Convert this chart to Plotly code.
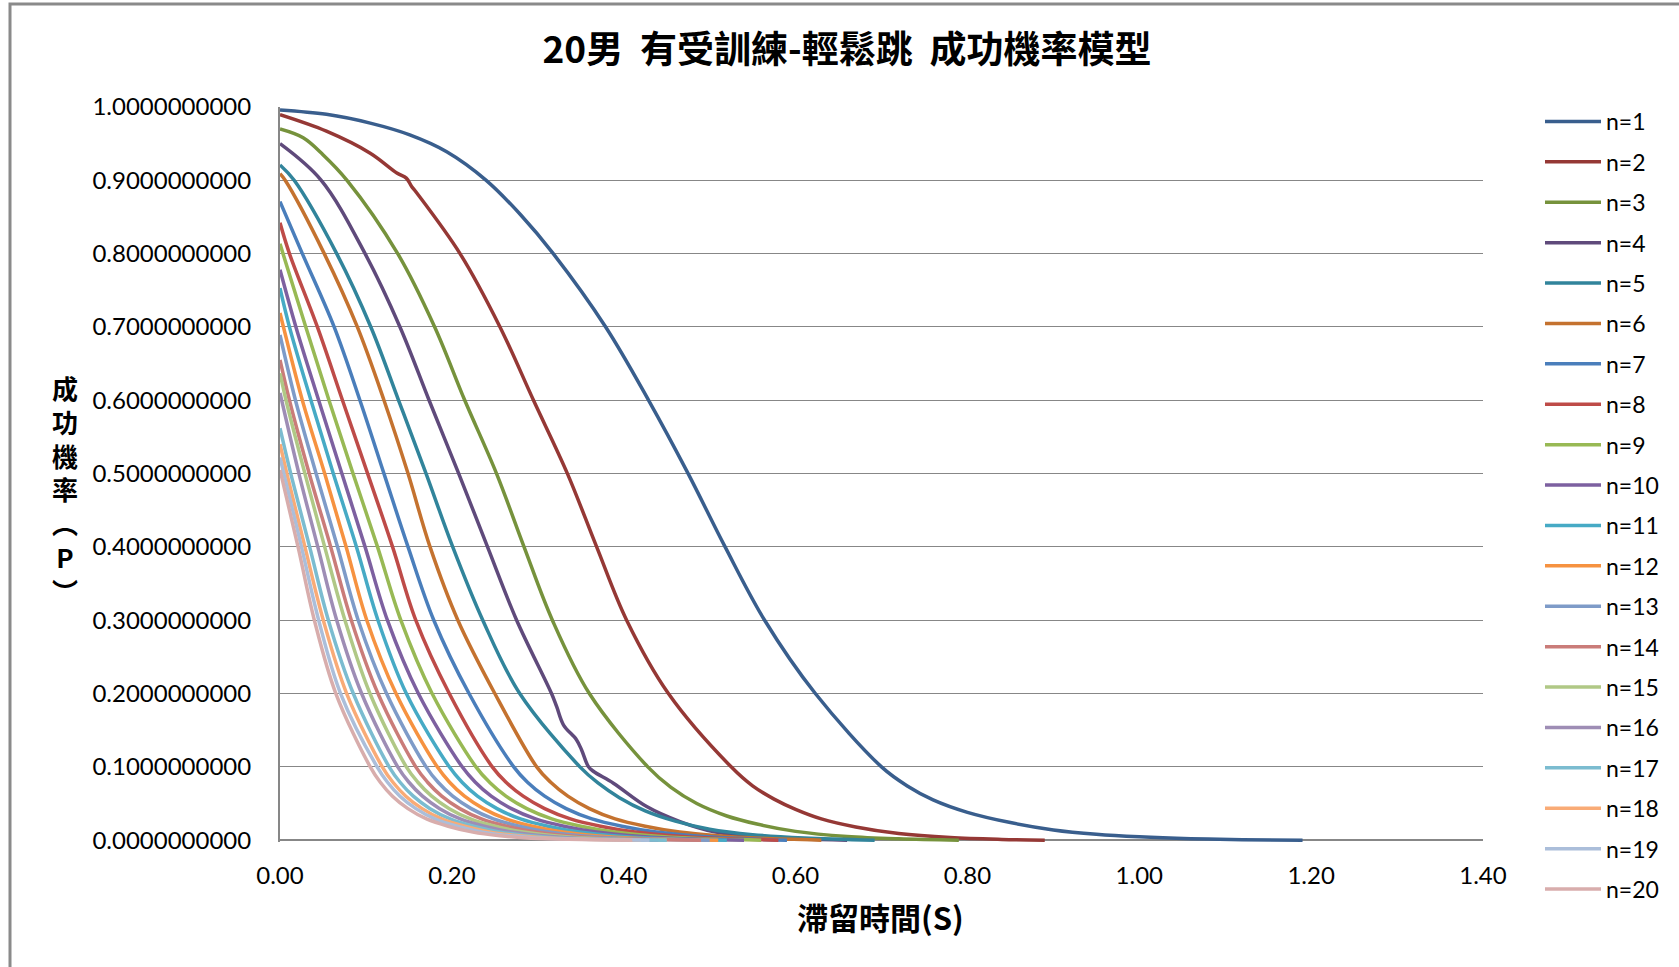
import plotly.graph_objects as go

# 滯留時間 (s) / 成功機率 for each number of jumps n
T1 = [0, 0.054, 0.105, 0.151, 0.194, 0.240, 0.280, 0.318, 0.379, 0.429, 0.475, 0.518, 0.564, 0.623, 0.700,
      0.730, 0.760, 0.800, 0.850, 0.900, 0.950, 1.000, 1.060, 1.120, 1.190]
P1 = [0.996, 0.990, 0.978, 0.962, 0.939, 0.900, 0.853, 0.800, 0.700, 0.600, 0.500, 0.400, 0.300, 0.200, 0.100,
      0.074, 0.055, 0.038, 0.024, 0.014, 0.008, 0.0045, 0.002, 0.0007, 0.000]

T2 = [0, 0.054, 0.105, 0.136, 0.147, 0.153, 0.159, 0.2095, 0.256, 0.295, 0.3345, 0.3685, 0.4034, 0.452, 0.525,
      0.550, 0.575, 0.600, 0.630, 0.670, 0.720, 0.780, 0.840, 0.890]
P2 = [0.9895, 0.967, 0.937, 0.910, 0.903, 0.892, 0.883, 0.800, 0.700, 0.600, 0.500, 0.400, 0.300, 0.200, 0.100,
      0.074, 0.056, 0.042, 0.029, 0.018, 0.009, 0.0035, 0.001, 0.000]

T3 = [0, 0.027, 0.050, 0.078, 0.137, 0.180, 0.215, 0.252, 0.284, 0.317, 0.360, 0.428,
      0.455, 0.485, 0.520, 0.555, 0.600, 0.660, 0.720, 0.790]
P3 = [0.970, 0.958, 0.935, 0.900, 0.800, 0.700, 0.600, 0.500, 0.400, 0.300, 0.200, 0.100,
      0.072, 0.050, 0.033, 0.022, 0.012, 0.005, 0.0018, 0.000]

T4 = [0, 0.048, 0.099, 0.1396, 0.1735, 0.208, 0.2415, 0.2754, 0.316, 0.322, 0.330, 0.345, 0.351, 0.3588, 0.3646,
      0.388, 0.4267, 0.4655, 0.504, 0.560, 0.660]
P4 = [0.950, 0.900, 0.800, 0.700, 0.600, 0.500, 0.400, 0.300, 0.200, 0.182, 0.157, 0.137, 0.123, 0.1005, 0.094,
      0.0777, 0.0459, 0.0254, 0.0118, 0.004, 0.000]

T5 = [0, 0.0165, 0.066, 0.1057, 0.138, 0.170, 0.201, 0.236, 0.279, 0.349,
      0.370, 0.395, 0.425, 0.460, 0.500, 0.550, 0.610, 0.692]
P5 = [0.921, 0.900, 0.800, 0.700, 0.600, 0.500, 0.400, 0.300, 0.200, 0.100,
      0.078, 0.058, 0.040, 0.026, 0.015, 0.0075, 0.003, 0.000]

T6 = [0, 0.006, 0.0515, 0.090, 0.121, 0.149, 0.1746, 0.207, 0.250, 0.2987,
      0.315, 0.335, 0.360, 0.390, 0.425, 0.465, 0.510, 0.560, 0.630]
P6 = [0.909, 0.900, 0.800, 0.700, 0.600, 0.500, 0.400, 0.300, 0.200, 0.100,
      0.079, 0.060, 0.043, 0.029, 0.019, 0.011, 0.006, 0.0025, 0.000]

T7 = [0, 0.026, 0.063, 0.093, 0.121, 0.149, 0.179, 0.220, 0.272,
      0.288, 0.308, 0.333, 0.363, 0.398, 0.438, 0.482, 0.530, 0.590]
P7 = [0.871, 0.800, 0.700, 0.600, 0.500, 0.400, 0.300, 0.200, 0.100,
      0.079, 0.060, 0.043, 0.029, 0.019, 0.011, 0.006, 0.0025, 0.000]

T8 = [0, 0.011, 0.0435, 0.0727, 0.102, 0.131, 0.158, 0.197, 0.247,
      0.263, 0.283, 0.308, 0.338, 0.373, 0.413, 0.457, 0.507, 0.580]
P8 = [0.842, 0.800, 0.700, 0.600, 0.500, 0.400, 0.300, 0.200, 0.100,
      0.079, 0.060, 0.043, 0.029, 0.019, 0.011, 0.006, 0.0025, 0.000]

T9 = [0, 0.0035, 0.030, 0.057, 0.085, 0.1135, 0.1406, 0.177, 0.228,
      0.2438, 0.2629, 0.2872, 0.3163, 0.3502, 0.389, 0.4317, 0.4802, 0.560]
P9 = [0.8135, 0.800, 0.700, 0.600, 0.500, 0.400, 0.300, 0.200, 0.100,
      0.079, 0.060, 0.043, 0.029, 0.019, 0.011, 0.006, 0.0025, 0.000]

T10 = [0, 0.0185, 0.045, 0.072, 0.099, 0.125, 0.161, 0.212,
       0.2273, 0.2458, 0.2693, 0.2975, 0.3304, 0.368, 0.4094, 0.4564, 0.540]
P10 = [0.778, 0.700, 0.600, 0.500, 0.400, 0.300, 0.200, 0.100,
       0.079, 0.060, 0.043, 0.029, 0.019, 0.011, 0.006, 0.0025, 0.000]

T11 = [0, 0.011, 0.036, 0.062, 0.089, 0.114, 0.147, 0.197,
       0.2118, 0.2298, 0.2525, 0.2798, 0.3117, 0.3481, 0.3881, 0.4336, 0.520]
P11 = [0.753, 0.700, 0.600, 0.500, 0.400, 0.300, 0.200, 0.100,
       0.079, 0.060, 0.043, 0.029, 0.019, 0.011, 0.006, 0.0025, 0.000]

T12 = [0, 0.004, 0.026, 0.052, 0.077, 0.101, 0.135, 0.183,
       0.1973, 0.2147, 0.2367, 0.2631, 0.2939, 0.3291, 0.3678, 0.4118, 0.510]
P12 = [0.719, 0.700, 0.600, 0.500, 0.400, 0.300, 0.200, 0.100,
       0.079, 0.060, 0.043, 0.029, 0.019, 0.011, 0.006, 0.0025, 0.000]

T13 = [0, 0.018, 0.042, 0.067, 0.091, 0.124, 0.170,
       0.184, 0.201, 0.2225, 0.2483, 0.2784, 0.3128, 0.3506, 0.3936, 0.500]
P13 = [0.689, 0.600, 0.500, 0.400, 0.300, 0.200, 0.100,
       0.079, 0.060, 0.043, 0.029, 0.019, 0.011, 0.006, 0.0025, 0.000]

T14 = [0, 0.011, 0.034, 0.059, 0.083, 0.114, 0.158,
       0.1717, 0.1882, 0.2092, 0.2344, 0.2638, 0.2974, 0.3344, 0.3764, 0.490]
P14 = [0.655, 0.600, 0.500, 0.400, 0.300, 0.200, 0.100,
       0.079, 0.060, 0.043, 0.029, 0.019, 0.011, 0.006, 0.0025, 0.000]

T15 = [0, 0.007, 0.029, 0.052, 0.0756, 0.1047, 0.147,
       0.1604, 0.1765, 0.197, 0.2216, 0.2503, 0.2831, 0.3192, 0.3602, 0.450]
P15 = [0.637, 0.600, 0.500, 0.400, 0.300, 0.200, 0.100,
       0.079, 0.060, 0.043, 0.029, 0.019, 0.011, 0.006, 0.0025, 0.000]

T16 = [0, 0.022, 0.044, 0.066, 0.095, 0.137,
       0.150, 0.1658, 0.1858, 0.2098, 0.2378, 0.2698, 0.305, 0.345, 0.440]
P16 = [0.610, 0.500, 0.400, 0.300, 0.200, 0.100,
       0.079, 0.060, 0.043, 0.029, 0.019, 0.011, 0.006, 0.0025, 0.000]

T17 = [0, 0.0125, 0.0345, 0.0563, 0.0853, 0.127,
       0.1397, 0.1551, 0.1746, 0.198, 0.2253, 0.2565, 0.2908, 0.3298, 0.450]
P17 = [0.562, 0.500, 0.400, 0.300, 0.200, 0.100,
       0.079, 0.060, 0.043, 0.029, 0.019, 0.011, 0.006, 0.0025, 0.000]

T18 = [0, 0.008, 0.029, 0.0504, 0.0776, 0.119,
       0.1314, 0.1464, 0.1654, 0.1882, 0.2148, 0.2452, 0.2786, 0.3166, 0.420]
P18 = [0.540, 0.500, 0.400, 0.300, 0.200, 0.100,
       0.079, 0.060, 0.043, 0.029, 0.019, 0.011, 0.006, 0.0025, 0.000]

T19 = [0, 0.0045, 0.025, 0.045, 0.0705, 0.113,
       0.1251, 0.1396, 0.1581, 0.1803, 0.2062, 0.2358, 0.2684, 0.3054, 0.430]
P19 = [0.522, 0.500, 0.400, 0.300, 0.200, 0.100,
       0.079, 0.060, 0.043, 0.029, 0.019, 0.011, 0.006, 0.0025, 0.000]

T20 = [0, 0.021, 0.040, 0.065, 0.105,
       0.1167, 0.1309, 0.1489, 0.1705, 0.1957, 0.2245, 0.2562, 0.2922, 0.410]
P20 = [0.505, 0.400, 0.300, 0.200, 0.100,
       0.079, 0.060, 0.043, 0.029, 0.019, 0.011, 0.006, 0.0025, 0.000]

NAMES = [f"n={i}" for i in range(1, 21)]
COLORS = [
    "#395E8D", "#953835", "#76923C", "#5F4A7B", "#31849B",
    "#C4722F", "#4A7EBB", "#BE4B48", "#98B954", "#7D60A0",
    "#46AAC5", "#F69240", "#7E9BC8", "#CA7C79", "#B0C886",
    "#9E8DB5", "#7BBCD0", "#F9AB76", "#ABBEDA", "#D8ADAC",
]
SERIES = [
    (T1, P1), (T2, P2), (T3, P3), (T4, P4), (T5, P5),
    (T6, P6), (T7, P7), (T8, P8), (T9, P9), (T10, P10),
    (T11, P11), (T12, P12), (T13, P13), (T14, P14), (T15, P15),
    (T16, P16), (T17, P17), (T18, P18), (T19, P19), (T20, P20),
]

TITLE = "20男  有受訓練-輕鬆跳  成功機率模型"
X_TITLE = "滯留時間(S)"
# vertical (stacked) y-axis title, one glyph per line
Y_TITLE = "<br>".join(["成", "功", "機", "率", "︵", "P", "︶"])

# page geometry (px)
W, H = 1679, 967
ML, MR, MT, MB = 280, 196, 107, 125
PW, PH = W - ML - MR, H - MT - MB
Y_MIN, Y_MAX = -0.0025, 1.0


def px_x(px):
    return (px - ML) / PW


def px_y(py):
    return (MT + PH - py) / PH


GRID = "#878787"
CJK = "Noto Sans CJK TC"
LATIN = "Lato"

fig = go.Figure()
for i, ((t, p), name, col) in enumerate(zip(SERIES, NAMES, COLORS)):
    fig.add_trace(go.Scatter(
        x=t, y=p, name=name, mode="lines",
        line=dict(color=col, width=3.5, shape="spline", smoothing=1.0),
        legendgroup=f"g{i}",
        hoverinfo="x+y+name",
    ))

annotations = [
    dict(
        text=f"<b>{Y_TITLE}</b>", x=px_x(65), y=px_y(489), xref="paper", yref="paper",
        showarrow=False, xanchor="center", yanchor="middle", align="center",
        font=dict(family=CJK, size=26, color="#000000"),
    ),
    dict(
        text=f"<b>{X_TITLE}</b>", x=px_x(880), y=px_y(917), xref="paper", yref="paper",
        showarrow=False, xanchor="center", yanchor="middle",
        font=dict(family=CJK, size=31, color="#000000"),
    ),
]

fig.update_layout(
    width=W, height=H,
    margin=dict(l=ML, r=MR, t=MT, b=MB, pad=0),
    paper_bgcolor="#FFFFFF", plot_bgcolor="#FFFFFF",
    title=dict(
        text=f"<b>{TITLE}</b>", x=847 / W, y=1 - 50 / H,
        xref="container", yref="container", xanchor="center", yanchor="middle",
        font=dict(family=CJK, size=37, color="#000000"),
    ),
    xaxis=dict(
        range=[0, 1.4], dtick=0.2, tick0=0, tickformat=".2f",
        showgrid=False, zeroline=False,
        showline=False, ticks="", ticklabelstandoff=17,
        tickfont=dict(family=LATIN, size=24, color="#000000"),
    ),
    yaxis=dict(
        range=[Y_MIN, Y_MAX], dtick=0.1, tick0=0, tickformat=".10f",
        showgrid=True, gridcolor=GRID, gridwidth=1.3,
        zeroline=True, zerolinecolor=GRID, zerolinewidth=2,
        showline=True, linecolor=GRID, linewidth=2,
        ticks="", ticklabelstandoff=22,
        tickfont=dict(family=LATIN, size=24, color="#000000"),
    ),
    legend=dict(
        x=px_x(1540), y=px_y(100), xanchor="left", yanchor="top",
        font=dict(family=LATIN, size=23, color="#000000"),
        tracegroupgap=7.5, itemwidth=56, bgcolor="rgba(0,0,0,0)",
        maxheight=920,
    ),
    showlegend=True,
    annotations=annotations,
    shapes=[dict(
        type="rect", xref="paper", yref="paper",
        x0=px_x(10), x1=px_x(1720), y0=px_y(1010), y1=px_y(4),
        line=dict(color="#8A8A8A", width=3), fillcolor="rgba(0,0,0,0)",
        layer="below",
    )],
)

fig.write_html("out.html")
